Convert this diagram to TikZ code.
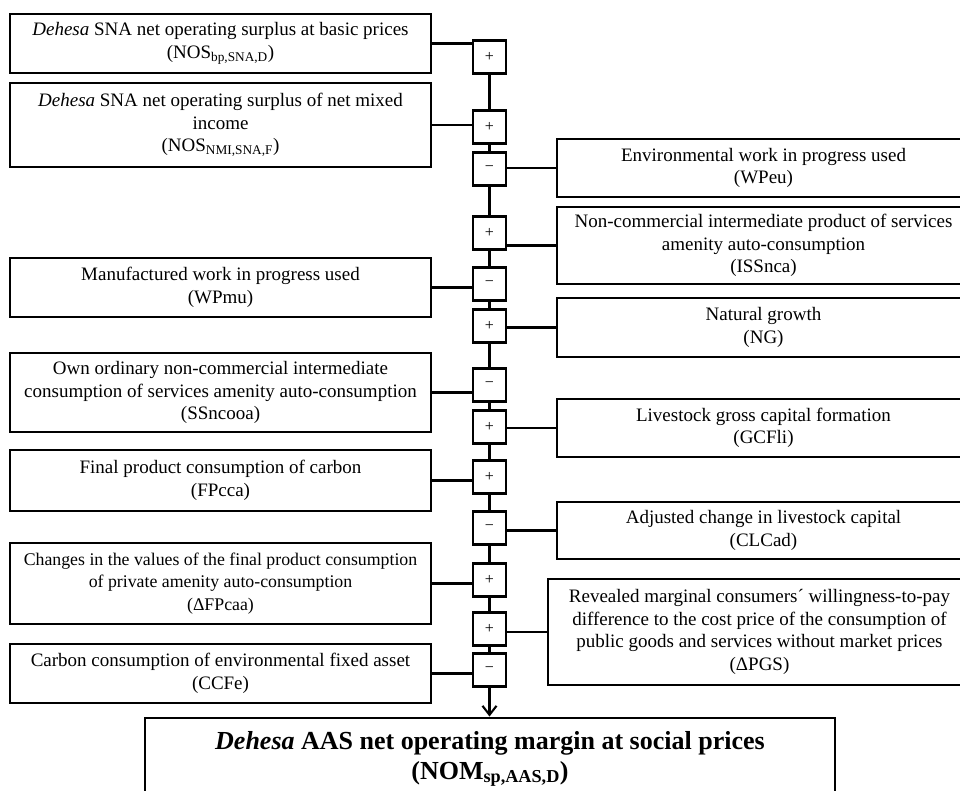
\documentclass[tikz,border=0pt]{standalone}
\usepackage{fontspec}
\setmainfont{Liberation Serif}
\usetikzlibrary{arrows.meta}
\newcommand{\signnode}[3]% name, y, sign
{\node[sgn] (#1) at (489.5,#2) {#3};
}

\begin{document}
\begin{tikzpicture}[x=1pt,y=-1pt,
  box/.style={draw,line width=2.9pt,align=center,inner sep=0pt,font=\fontsize{19}{22.5}\selectfont},
  lbox/.style={box,minimum width=421pt},
  rbox/.style={box,minimum width=413pt},
  sgn/.style={draw,line width=2.9pt,minimum size=33pt,inner sep=0pt,font=\fontsize{16}{16}\selectfont},
  link/.style={line width=2.1pt}]
\useasboundingbox (0,0) rectangle (960,791);
\clip (0,0) rectangle (960,791);
% left column
\node[lbox,minimum height=59pt] (nosbp) at (220.5,43.5) {\textit{Dehesa} SNA net operating surplus at basic prices\\(NOS\textsubscript{bp,SNA,D})};
\node[lbox,minimum height=84pt] (nosnmi) at (220.5,125) {\textit{Dehesa} SNA net operating surplus of net mixed\\income\\(NOS\textsubscript{NMI,SNA,F})};
\node[lbox,minimum height=59pt] (wpmu) at (220.5,287.5) {Manufactured work in progress used\\(WPmu)};
\node[lbox,minimum height=79pt] (ssncooa) at (220.5,392.5) {Own ordinary non-commercial intermediate\\consumption of services amenity auto-consumption\\(SSncooa)};
\node[lbox,minimum height=61pt] (fpcca) at (220.5,480.5) {Final product consumption of carbon\\(FPcca)};
\node[lbox,minimum height=81pt,font=\fontsize{17.8}{22.5}\selectfont] (dfpcaa) at (220.5,583.5) {Changes in the values of the final product consumption\\of private amenity auto-consumption\\(ΔFPcaa)};
\node[lbox,minimum height=59pt] (ccfe) at (220.5,673.5) {Carbon consumption of environmental fixed asset\\(CCFe)};
% right column
\node[rbox,minimum height=58pt] (wpeu) at (763.5,168) {Environmental work in progress used\\(WPeu)};
\node[rbox,minimum height=77pt] (issnca) at (763.5,245.5) {Non-commercial intermediate product of services\\amenity auto-consumption\\(ISSnca)};
\node[rbox,minimum height=59pt] (ng) at (763.5,327.5) {Natural growth\\(NG)};
\node[rbox,minimum height=58pt] (gcfli) at (763.5,428) {Livestock gross capital formation\\(GCFli)};
\node[rbox,minimum height=57pt] (clcad) at (763.5,530.5) {Adjusted change in livestock capital\\(CLCad)};
\node[box,minimum width=423pt,minimum height=106pt] (dpgs) at (759.5,632) {Revealed marginal consumers´ willingness-to-pay\\difference to the cost price of the consumption of\\public goods and services without market prices\\(ΔPGS)};
% result
\node[box,minimum width=690pt,minimum height=82pt,font=\fontsize{26}{30}\selectfont\bfseries] (nomsp) at (490,759) {\textit{Dehesa} AAS net operating margin at social prices\\(NOM\textsubscript{sp,AAS,D})};
% signs
\signnode{s1}{57}{+}
\signnode{s2}{127}{+}
\signnode{s3}{169}{−}
\signnode{s4}{233}{+}
\signnode{s5}{284}{−}
\signnode{s6}{326}{+}
\signnode{s7}{385}{−}
\signnode{s8}{427}{+}
\signnode{s9}{477}{+}
\signnode{s10}{528}{−}
\signnode{s11}{580}{+}
\signnode{s12}{629}{+}
\signnode{s13}{670}{−}
% links
\foreach \b/\s in {nosbp/s1,nosnmi/s2,wpmu/s5,ssncooa/s7,fpcca/s9,dfpcaa/s11,ccfe/s13}
  \draw[link] (\b.east) -- (\b.east -| \s.west);
\foreach \b/\s in {wpeu/s3,issnca/s4,ng/s6,gcfli/s8,clcad/s10,dpgs/s12}
  \draw[link] (\b.west) -- (\b.west -| \s.east);
\draw[link] (s1) -- (s2) -- (s3) -- (s4) -- (s5) -- (s6) -- (s7) -- (s8) -- (s9) -- (s10) -- (s11) -- (s12) -- (s13);
\draw[link,-{Straight Barb[length=9pt,width=14pt]}] (s13) -- (s13 |- nomsp.north);
\end{tikzpicture}
\end{document}
